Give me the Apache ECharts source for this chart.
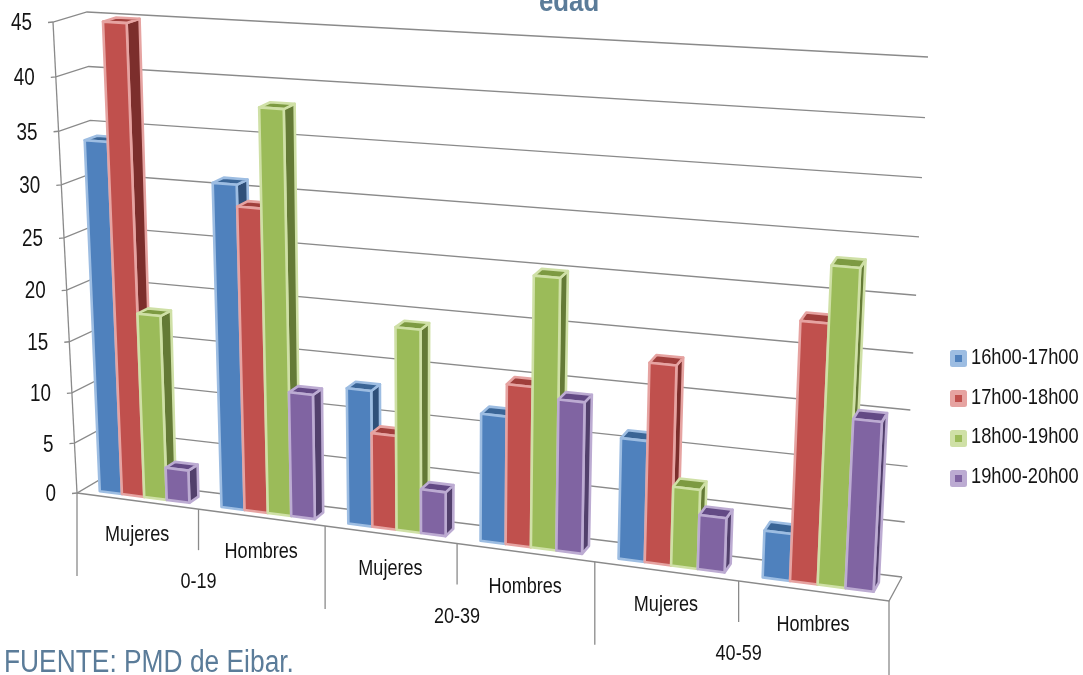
<!DOCTYPE html>
<html>
<head>
<meta charset="utf-8">
<style>html,body{margin:0;padding:0;background:#fff}#chart{width:1083px;height:675px}</style>
<script src="https://cdn.jsdelivr.net/npm/echarts@6/dist/echarts.min.js"></script>
</head>
<body>
<div id="chart"></div>
<script>
// Visitors per hour slot, by age bracket and sex
const groupLabels = ['0-19', '20-39', '40-59'];
const sexLabels = ['Mujeres', 'Hombres', 'Mujeres', 'Hombres', 'Mujeres', 'Hombres'];
const slotNames = ['16h00-17h00', '17h00-18h00', '18h00-19h00', '19h00-20h00'];
const slot16 = [34, 31, 13, 12, 11.2, 4.3];
const slot17 = [45, 29, 9, 15, 18.3, 23.3];
const slot18 = [18, 38.2, 19.2, 25.1, 7.3, 28.3];
const slot19 = [3.2, 12, 4.2, 14.1, 5, 15.2];
const valueTicks = [0, 5, 10, 15, 20, 25, 30, 35, 40, 45];

const slotValues = [slot16, slot17, slot18, slot19];
const faces = [
  { front: '#4f81bd', rim: '#9dbde2', side: '#2f5079', top: '#3a6596' },
  { front: '#c0504d', rim: '#e6a3a1', side: '#7c2e2c', top: '#a03f3c' },
  { front: '#9bbb59', rim: '#cfe0a6', side: '#647a36', top: '#7d9a42' },
  { front: '#8064a2', rim: '#bcabd2', side: '#52406c', top: '#634a85' }
];

const sans = '"Liberation Sans", Arial, sans-serif';
const slate = '#5b7c99';
const ink = '#141414';
const squeeze = 0.82;

// Corners of the floor and the top of the plot box, in screen space
const box = {
  flb: [77, 493], frb: [889, 601], blb: [101, 479], brb: [902, 577],
  flt: [53, 22], frt: [916, 77], blt: [87, 12], brt: [928, 57]
};
const perspU = 0.88, perspV = 0.946;
const warp = (t, k) => k * t / (1 + (k - 1) * t);
const mix = (a, b, t) => [a[0] + (b[0] - a[0]) * t, a[1] + (b[1] - a[1]) * t];

// Turns axis coordinates into the tilted box: a is along the categories,
// d is the depth (0 front, 1 back) and h the height, each from 0 to 1.
function toBox(a, d, h) {
  const u = warp(a, perspU), t = warp(h, perspV);
  const bottom = mix(mix(box.flb, box.frb, u), mix(box.blb, box.brb, u), d);
  const top = mix(mix(box.flt, box.frt, u), mix(box.blt, box.brt, u), d);
  return mix(bottom, top, t);
}

// Resolves a data pair through the hidden cartesian axes into unit values
function unit(api, x, y) {
  const o = api.coord([0, 0]), e = api.coord([6, 45]), p = api.coord([x, y]);
  return [(p[0] - o[0]) / (e[0] - o[0]), (p[1] - o[1]) / (e[1] - o[1])];
}

const barStart = 0.135, barWidth = 0.185, depthFront = 0.28, depthBack = 0.68;

function renderBar(slot) {
  return function (params, api) {
    const cat = api.value(0), val = api.value(1);
    const left = cat + barStart + slot * barWidth, right = left + barWidth;
    const lo = unit(api, left, 0), hi = unit(api, right, val);
    const p = toBox;
    const c = faces[slot];
    const face = (pts, fill) => ({
      type: 'polygon',
      shape: { points: pts },
      style: { fill: fill, stroke: c.rim, lineWidth: 2.6, lineJoin: 'round' }
    });
    return {
      type: 'group',
      children: [
        face([p(hi[0], depthFront, lo[1]), p(hi[0], depthBack, lo[1]), p(hi[0], depthBack, hi[1]), p(hi[0], depthFront, hi[1])], c.side),
        face([p(lo[0], depthFront, hi[1]), p(hi[0], depthFront, hi[1]), p(hi[0], depthBack, hi[1]), p(lo[0], depthBack, hi[1])], c.top),
        face([p(lo[0], depthFront, lo[1]), p(hi[0], depthFront, lo[1]), p(hi[0], depthFront, hi[1]), p(lo[0], depthFront, hi[1])], c.front)
      ]
    };
  };
}

const lineStyle = { stroke: '#8a8a8a', lineWidth: 1.3, fill: null };
const poly = pts => ({ type: 'polyline', shape: { points: pts }, style: lineStyle });

// Condensed text: the installed sans is squeezed horizontally around its anchor
const label = (text, x, y, align, size, color, weight, scale) => ({
  type: 'text',
  x: x,
  y: y,
  scaleX: scale || squeeze,
  style: {
    text: text, x: 0, y: 0, align: align, verticalAlign: 'middle',
    font: (weight || 'normal') + ' ' + size + 'px ' + sans, fill: color || ink
  }
});

// Walls with their gridlines and the value labels on the left edge
function renderWalls(params, api) {
  const h = unit(api, 0, api.value(0))[1];
  const a = toBox(0, 0, h), b = toBox(0, 1, h), c = toBox(1, 1, h);
  return {
    type: 'group',
    children: [
      poly([[a[0] - 5, a[1] + 0.5], a, b, c]),
      label(String(api.value(0)), a[0] - 21, a[1] + 2, 'right', 23)
    ]
  };
}

// Front edge of the floor, category separators and the two label levels
function renderFloor(params, api) {
  const i = api.value(0);
  const kids = [];
  const u0 = unit(api, i, 0)[0], mid = unit(api, i + 0.5, 0)[0];
  const edge = toBox(u0, 0, 0);
  kids.push(poly([edge, [edge[0], edge[1] + (i % 2 ? 41 : 83)]]));
  if (i === 0) {
    kids.push(poly([box.flb, box.frb, box.brb]));
    kids.push(poly([box.flt, box.flb]));
  }
  if (i === 5) {
    kids.push(poly([box.frb, [box.frb[0], box.frb[1] + 83]]));
  }
  const m = toBox(mid, 0, 0);
  kids.push(label(sexLabels[i], m[0], m[1] + 34, 'center', 22));
  if (i % 2 === 1) {
    kids.push(label(groupLabels[(i - 1) / 2], edge[0], edge[1] + 73, 'center', 22));
  }
  return { type: 'group', children: kids };
}

const barSeries = slotNames.map((name, s) => ({
  type: 'custom',
  name: name,
  z: 3 + s,
  coordinateSystem: 'cartesian2d',
  renderItem: renderBar(s),
  encode: { x: 0, y: 1 },
  itemStyle: { color: faces[s].front },
  data: slotValues[s].map((v, c) => [c, v])
}));

const chart = echarts.init(document.getElementById('chart'), null, { renderer: 'canvas' });
chart.setOption({
  animation: false,
  backgroundColor: '#ffffff',
  grid: { left: 77, top: 22, width: 812, height: 471 },
  xAxis: { type: 'value', min: 0, max: 6, show: false },
  yAxis: { type: 'value', min: 0, max: 45, interval: 5, show: false },
  legend: {
    orient: 'vertical',
    left: 945,
    top: 343,
    itemWidth: 12,
    itemHeight: 12,
    itemGap: 19,
    formatter: () => ' ',
    textStyle: { fontSize: 21 },
    selectedMode: false,
    data: slotNames.map((name, s) => ({
      name: name,
      icon: 'rect',
      itemStyle: { color: faces[s].front, borderColor: faces[s].rim, borderWidth: 5, borderJoin: 'round' }
    }))
  },
  graphic: [
    label('edad', 539, 3, 'left', 29, slate, 'bold', 0.89),
    label('FUENTE: PMD de Eibar.', 4, 663, 'left', 31, slate, 'normal', 0.85)
  ].concat(slotNames.map((name, s) => label(name, 971, 358 + s * 39.7, 'left', 22, ink, 'normal', 0.83))),
  series: [
    { type: 'custom', name: 'walls', z: 1, silent: true, renderItem: renderWalls, encode: { y: 0 }, data: valueTicks.map(v => [v]) },
    { type: 'custom', name: 'floor', z: 2, silent: true, renderItem: renderFloor, encode: { x: 0 }, data: sexLabels.map((_, i) => [i]) }
  ].concat(barSeries)
});
</script>
</body>
</html>
